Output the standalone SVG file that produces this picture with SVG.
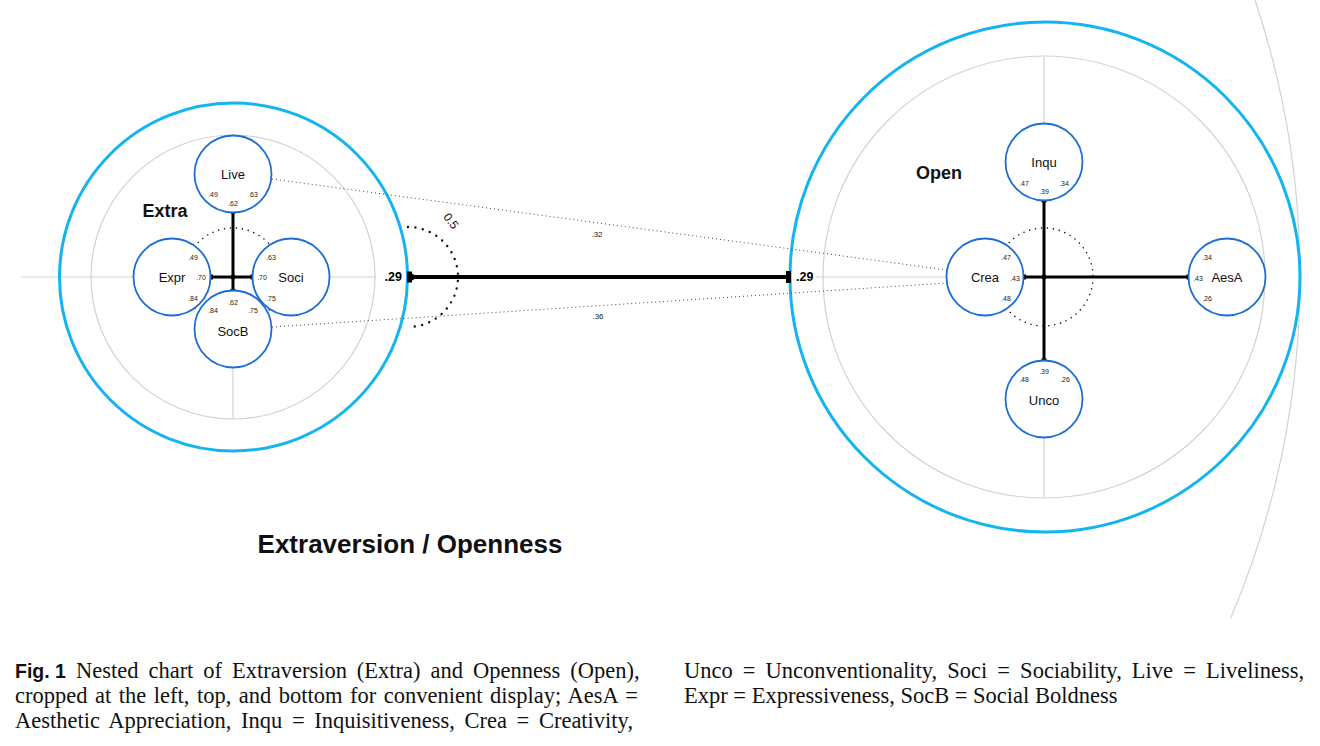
<svg xmlns="http://www.w3.org/2000/svg" width="1320" height="746" viewBox="0 0 1320 746">
<style>
.gray{fill:none;stroke:#d2d2d2;stroke-width:1.2}
.cyan{fill:none;stroke:#14b4f0;stroke-width:3}
.node{fill:#fff;stroke:#1c6fd0;stroke-width:1.8}
.dotc{fill:none;stroke:#111;stroke-width:1.6;stroke-dasharray:0 6;stroke-linecap:round}
.dotl{fill:none;stroke:#444;stroke-width:1;stroke-dasharray:1 3}
.bar{stroke:#000;stroke-width:3;fill:none}
.lbl{font-family:"Liberation Sans",Arial,sans-serif;font-size:13px;fill:#111;text-anchor:middle;dominant-baseline:central}
.num{font-family:"Liberation Sans",Arial,sans-serif;font-size:7px;fill:#222;text-anchor:middle;dominant-baseline:central}
.big{font-family:"Liberation Sans",Arial,sans-serif;font-size:18px;font-weight:bold;fill:#111;text-anchor:middle;dominant-baseline:central}
.cap{font-family:"Liberation Serif","Times New Roman",serif;font-size:22.5px;fill:#111}
</style>
<rect width="1320" height="746" fill="#fff"/>
<g id="background">
<path class="gray" d="M1255,0 A875,875 0 0 1 1230.8,618"/>
<line class="gray" x1="21" y1="277" x2="376" y2="277"/>
<line class="gray" x1="233" y1="135" x2="233" y2="419"/>
<circle class="gray" cx="233" cy="277" r="142"/>
<circle class="cyan" cx="233.5" cy="277" r="174"/>
<line class="gray" x1="816" y1="277" x2="1265" y2="277"/>
<line class="gray" x1="1044" y1="57" x2="1044" y2="497"/>
<circle class="gray" cx="1044" cy="277" r="221"/>
<circle class="cyan" cx="1045" cy="277" r="255"/>
</g>
<g id="connectors">
<line class="dotl" x1="272" y1="179" x2="947" y2="270"/>
<line class="dotl" x1="272" y1="327" x2="947" y2="283"/>
<text class="num" x="597" y="234" style="font-size:8px">.32</text>
<text class="num" x="598" y="316" style="font-size:8px">.36</text>
<circle class="dotc" cx="233" cy="277" r="49"/>
<circle class="dotc" cx="1044" cy="277" r="49"/>
<path d="M408,227 A50,50 0 0 1 408,327" fill="none" stroke="#111" stroke-width="2.4" stroke-dasharray="0 7.5" stroke-linecap="round"/>
<text x="451" y="221" transform="rotate(52 451 221)" style="font-family:'Liberation Sans',Arial,sans-serif;font-size:12px;fill:#111;text-anchor:middle;dominant-baseline:central">0.5</text>
<line x1="410" y1="277" x2="789" y2="277" stroke="#000" stroke-width="4"/>
<rect x="407" y="271.5" width="5" height="11" fill="#000"/>
<circle cx="411" cy="277" r="3.5" fill="#000"/>
<rect x="786" y="271" width="5" height="12" fill="#000"/>
<text x="402" y="277" style="font-family:'Liberation Sans',Arial,sans-serif;font-size:12.5px;font-weight:bold;fill:#000;text-anchor:end;dominant-baseline:central">.29</text>
<text x="796" y="277" style="font-family:'Liberation Sans',Arial,sans-serif;font-size:12.5px;font-weight:bold;fill:#000;dominant-baseline:central">.29</text>
<line class="bar" x1="233" y1="212" x2="233" y2="291"/>
<line class="bar" x1="211" y1="277" x2="252" y2="277"/>
<rect x="230.5" y="210.5" width="5" height="3" fill="#000"/>
<rect x="230.5" y="289" width="5" height="3" fill="#000"/>
<rect x="210" y="274.5" width="3" height="5" fill="#000"/>
<rect x="250.5" y="274.5" width="3" height="5" fill="#000"/>
<circle cx="233" cy="277" r="2.5" fill="#000"/>
<line class="bar" x1="1044" y1="201" x2="1044" y2="360"/>
<line class="bar" x1="1024" y1="277" x2="1188" y2="277"/>
<rect x="1041.5" y="199.5" width="5" height="3" fill="#000"/>
<rect x="1041.5" y="358.5" width="5" height="3" fill="#000"/>
<rect x="1023" y="274.5" width="3" height="5" fill="#000"/>
<rect x="1186.5" y="274.5" width="3" height="5" fill="#000"/>
<circle cx="1044" cy="277" r="2.5" fill="#000"/>
</g>
<g id="Extra">
<text class="big" x="165" y="211">Extra</text>
</g>
<g id="Live">
<circle class="node" cx="233" cy="174" r="38.5"/>
<text class="lbl" x="233" y="174">Live</text>
<text class="num" x="213" y="194">.49</text><text class="num" x="253" y="194">.63</text><text class="num" x="233" y="203">.62</text>
</g>
<g id="Expr">
<circle class="node" cx="172" cy="277" r="38.5"/>
<text class="lbl" x="172" y="277">Expr</text>
<text class="num" x="193" y="257">.49</text><text class="num" x="201" y="277">.70</text><text class="num" x="193" y="298">.84</text>
</g>
<g id="Soci">
<circle class="node" cx="291" cy="277" r="38.5"/>
<text class="lbl" x="291" y="277">Soci</text>
<text class="num" x="271" y="257">.63</text><text class="num" x="262" y="277">.70</text><text class="num" x="271" y="298">.75</text>
</g>
<g id="SocB">
<circle class="node" cx="233" cy="329" r="38.5"/>
<text class="lbl" x="233" y="331">SocB</text>
<text class="num" x="233" y="302">.62</text><text class="num" x="213" y="310">.84</text><text class="num" x="253" y="310">.75</text>
</g>
<g id="Open">
<text class="big" x="939" y="173">Open</text>
</g>
<g id="Inqu">
<circle class="node" cx="1044" cy="162" r="38.5"/>
<text class="lbl" x="1044" y="162">Inqu</text>
<text class="num" x="1024" y="183">.47</text><text class="num" x="1064" y="183">.34</text><text class="num" x="1044" y="191">.39</text>
</g>
<g id="Crea">
<circle class="node" cx="985" cy="277" r="38.5"/>
<text class="lbl" x="985" y="277">Crea</text>
<text class="num" x="1006" y="257">.47</text><text class="num" x="1015" y="278">.43</text><text class="num" x="1006" y="298">.48</text>
</g>
<g id="AesA">
<circle class="node" cx="1227" cy="277" r="38.5"/>
<text class="lbl" x="1227" y="277">AesA</text>
<text class="num" x="1207" y="257">.34</text><text class="num" x="1198" y="278">.43</text><text class="num" x="1207" y="298">.26</text>
</g>
<g id="Unco">
<circle class="node" cx="1044" cy="399" r="38.5"/>
<text class="lbl" x="1044" y="400">Unco</text>
<text class="num" x="1044" y="371">.39</text><text class="num" x="1024" y="379">.48</text><text class="num" x="1065" y="379">.26</text>
</g>
<g id="title">
<text x="410" y="544" style="font-family:'Liberation Sans',Arial,sans-serif;font-size:26px;font-weight:bold;fill:#111;text-anchor:middle;dominant-baseline:central">Extraversion / Openness</text>
</g>
<g id="caption">
<text x="15" y="678" style="font-family:'Liberation Sans',Arial,sans-serif;font-size:19.5px;font-weight:bold;fill:#111">Fig. 1</text>
<text class="cap" x="76" y="678" style="word-spacing:4.3px">Nested chart of Extraversion (Extra) and Openness (Open),</text>
<text class="cap" x="15" y="703" style="word-spacing:1.9px">cropped at the left, top, and bottom for convenient display; AesA =</text>
<text class="cap" x="15" y="728" style="word-spacing:4px">Aesthetic Appreciation, Inqu = Inquisitiveness, Crea = Creativity,</text>
<text class="cap" x="684" y="678" style="word-spacing:4.45px">Unco = Unconventionality, Soci = Sociability, Live = Liveliness,</text>
<text class="cap" x="684" y="703">Expr = Expressiveness, SocB = Social Boldness</text>
</g>
</svg>
